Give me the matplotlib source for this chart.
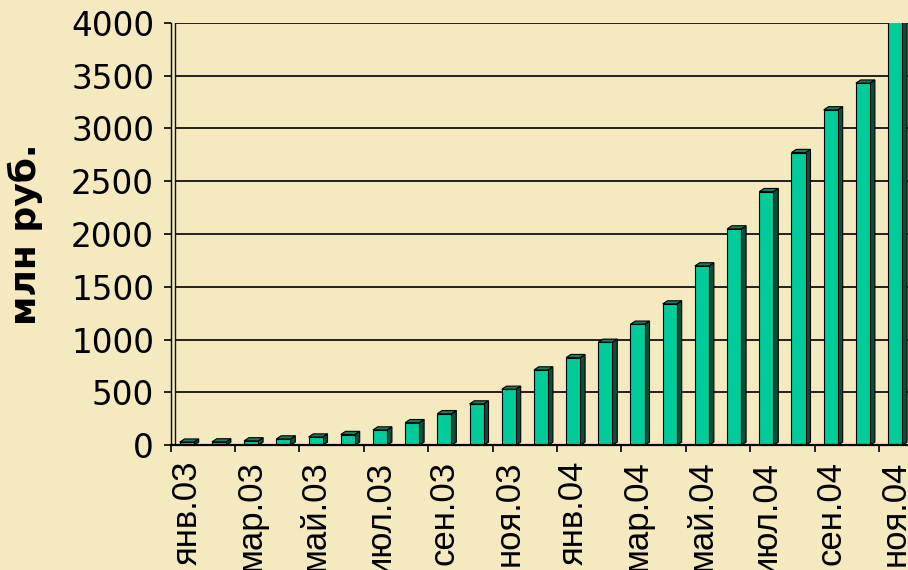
import numpy as np
import matplotlib
matplotlib.use("Agg")
import matplotlib.pyplot as plt
from matplotlib.patches import Polygon

# monthly values, mln rub
months = ['янв.03', 'фев.03', 'мар.03', 'апр.03', 'май.03', 'июн.03',
          'июл.03', 'авг.03', 'сен.03', 'окт.03', 'ноя.03', 'дек.03',
          'янв.04', 'фев.04', 'мар.04', 'апр.04', 'май.04', 'июн.04',
          'июл.04', 'авг.04', 'сен.04', 'окт.04', 'ноя.04']
values = [30, 32, 42, 60, 78, 102, 145, 214, 299, 391, 530, 713,
          830, 975, 1146, 1338, 1698, 2048, 2401, 2771, 3175, 3428, 4020]
yticks = [0, 500, 1000, 1500, 2000, 2500, 3000, 3500, 4000]

bg = '#F5EABF'
front_col = '#00CC99'
side_col = '#0B4D3B'
top_col = '#167E61'

fig = plt.figure(figsize=(9.08, 5.70), dpi=100, facecolor=bg)
# axes runs a bit past the right edge, as in the cropped original
ax = fig.add_axes([0.188, 0.2188, 0.8156, 0.7414], facecolor=bg)

n = len(values)
x = np.arange(n)
ax.set_xlim(-0.5, n - 0.5)
ax.set_ylim(0, 4000)

w = 0.44          # front face width, in categories
dx = 0.15         # depth offset (x), categories
dy = 30           # depth offset (y), value units

# wall / gridlines
ax.hlines(yticks[1:], -0.5 + 0.12, n - 0.5, colors='#111111', lw=1.3, zorder=1)
ax.axvline(-0.5 + 0.12, color='#111111', lw=1.0, zorder=1)

for xi, v in zip(x, values):
    l, r = xi - w / 2, xi + w / 2
    side = Polygon([(r, 0), (r + dx, dy), (r + dx, v + dy), (r, v)],
                   closed=True, fc=side_col, ec='black', lw=0.8, zorder=3)
    top = Polygon([(l, v), (l + dx, v + dy), (r + dx, v + dy), (r, v)],
                  closed=True, fc=top_col, ec='black', lw=0.8, zorder=3)
    ax.add_patch(side)
    ax.add_patch(top)
ax.bar(x, values, width=w, color=front_col, edgecolor='black', lw=0.8, zorder=4)

# spines
for s in ['top', 'right']:
    ax.spines[s].set_visible(False)
ax.spines['left'].set_linewidth(1.0)
ax.spines['bottom'].set_linewidth(1.6)
ax.spines['left'].set_zorder(5)
ax.spines['bottom'].set_zorder(5)

# y axis
ax.set_yticks(yticks)
ax.set_yticklabels([str(t) for t in yticks], fontsize=23.5, family='DejaVu Sans')
ax.tick_params(axis='y', length=5, width=1.2, pad=7, direction='out')

# x axis: ticks at every other category boundary, labels at centres
ax.set_xticks(np.arange(-0.5, n - 0.5, 2))
ax.set_xticklabels([])
ax.tick_params(axis='x', which='major', length=5, width=1.2, direction='out')
ax.set_xticks(x[::2], minor=True)
ax.set_xticklabels(months[::2], minor=True, rotation=90, fontsize=25,
                   family='Liberation Sans', va='top')
ax.tick_params(axis='x', which='minor', length=0, pad=11)

ax.set_ylabel('млн руб.', fontsize=26, fontweight='bold', family='DejaVu Sans')
ax.yaxis.set_label_coords(-0.1724, 0.5)

fig.savefig('out.png', dpi=100, facecolor=bg)
